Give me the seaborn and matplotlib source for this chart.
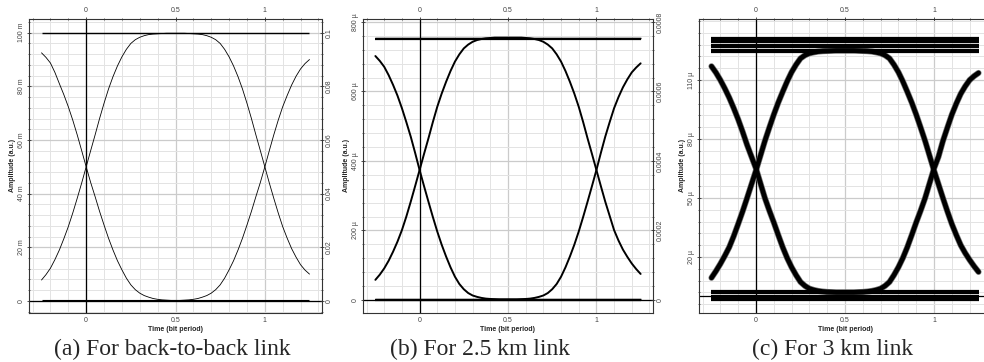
import numpy as np
import pandas as pd
import seaborn as sns
import matplotlib.pyplot as plt
from matplotlib.ticker import FixedLocator, MultipleLocator

# tiempo (periodo de bit)
t = [-0.25, -0.225, -0.2, -0.175, -0.15, -0.125, -0.1, -0.075, -0.05, -0.025,
     0.0, 0.025, 0.05, 0.075, 0.1, 0.125, 0.15, 0.175, 0.2, 0.225,
     0.25, 0.275, 0.3, 0.325, 0.35, 0.375, 0.4, 0.425, 0.45, 0.475,
     0.5, 0.525, 0.55, 0.575, 0.6, 0.625, 0.65, 0.675, 0.7, 0.725,
     0.75, 0.775, 0.8, 0.825, 0.85, 0.875, 0.9, 0.925, 0.95, 0.975,
     1.0, 1.025, 1.05, 1.075, 1.1, 1.125, 1.15, 1.175, 1.2, 1.225, 1.25]

# (a) back-to-back, valores en m (mili)
a_sube = [7.8, 9.8, 12.2, 15.4, 19, 23.2, 27.7, 32.8, 38.3, 44,
          50, 56, 61.9, 68, 73.7, 79, 83.6, 87.6, 91, 93.8,
          96, 97.4, 98.3, 98.9, 99.3, 99.5, 99.6, 99.7, 99.8, 99.8,
          99.8, 99.8, 99.8, 99.7, 99.6, 99.5, 99.3, 98.9, 98.3, 97.4,
          96, 93.8, 91, 87.6, 83.6, 79, 73.7, 68, 61.9, 56,
          50, 44, 38.3, 32.8, 27.7, 23.4, 19.5, 16.3, 13.5, 11.5, 10]
a_baja = [92.5, 90.8, 88.7, 85.2, 81, 76.9, 72.4, 67.4, 61.9, 56,
          50, 44.2, 38.9, 33.4, 28.3, 23.4, 19, 15, 11.6, 8.5,
          6, 4.2, 2.9, 2, 1.4, 0.9, 0.6, 0.4, 0.3, 0.2,
          0.2, 0.2, 0.3, 0.4, 0.6, 0.9, 1.4, 2, 2.9, 4.2,
          6, 8.5, 11.6, 15, 19, 23.4, 28.3, 33.4, 38.9, 44.2,
          50, 56, 61.9, 67.4, 72.4, 76.6, 80.5, 83.8, 86.5, 88.5, 90]
a_niveles = [99.8, 0.2]

# (b) 2.5 km, valores en micro
b_sube = [58, 73, 91, 113, 139, 168, 201, 240, 283, 328,
          374, 420, 465, 512, 556, 594, 628, 659, 686, 707,
          724, 735, 743, 748, 751, 753, 754, 755, 755, 755,
          755, 755, 755, 755, 754, 753, 751, 748, 743, 735,
          724, 707, 686, 659, 628, 594, 556, 512, 465, 420,
          374, 328, 283, 242, 201, 171, 145, 124, 105, 89, 75]
b_baja = [702, 688, 671, 647, 619, 588, 552, 512, 470, 423,
          374, 328, 283, 239, 197, 159, 125, 94, 67, 46,
          31, 20, 13, 9, 6, 4, 3, 2.5, 2, 2,
          2, 2, 2, 2.5, 3, 4, 6, 9, 13, 20,
          31, 46, 67, 94, 125, 159, 197, 239, 283, 328,
          374, 423, 470, 512, 552, 584, 612, 635, 655, 669, 681]
b_niveles = [751, 755, 1, 3]

# (c) 3 km, valores en micro
c_sube = [9.4, 12.8, 16.5, 20.6, 25, 30.6, 36.8, 43.2, 50, 57,
          64, 71.5, 79, 85.8, 92.4, 98.5, 104, 109.3, 114, 117.8,
          121, 122.6, 123.6, 124.1, 124.5, 124.7, 124.8, 124.9, 125, 125,
          125, 125, 125, 124.9, 124.8, 124.7, 124.5, 124.1, 123.6, 122.6,
          121, 117.8, 114, 109.3, 104, 98.5, 92.4, 85.8, 79, 71.5,
          64, 57, 50, 43.2, 36.8, 31.2, 26, 22, 18.5, 15.3, 12.4]
c_baja = [117, 113.8, 110, 105.7, 101, 95.7, 90, 83.7, 77, 71,
          65, 57.5, 50, 43.6, 37.6, 31.2, 25, 19.5, 14.8, 10.8,
          7.3, 5.3, 3.9, 3.2, 2.7, 2.4, 2.2, 2.1, 2, 2,
          2, 2, 2, 2.1, 2.2, 2.4, 2.7, 3.2, 3.9, 5.3,
          7.3, 10.8, 14.8, 19.5, 25, 31.2, 37.6, 43.6, 50, 57.5,
          65, 71, 79, 85.8, 92.4, 98, 103, 106.8, 110, 112, 113.6]
c_niveles = [124.3, 125.5, 126.7, 127.9, 129.1, 130.3, 131.5,
             -2.0, -0.8, 0.4, 1.6, 2.8]

# ticks y etiquetas
x_ticks = [0, 0.5, 1]
x_labels = ['0', '0.5', '1']
a_yticks = [0, 20, 40, 60, 80, 100]
a_ylabels = ['0', '20 m', '40 m', '60 m', '80 m', '100 m']
a_rlabels = ['0', '0.02', '0.04', '0.06', '0.08', '0.1']
b_yticks = [0, 200, 400, 600, 800]
b_ylabels = ['0', '200 \u00b5', '400 \u00b5', '600 \u00b5', '800 \u00b5']
b_rlabels = ['0', '0.0002', '0.0004', '0.0006', '0.0008']
c_yticks = [20, 50, 80, 110]
c_ylabels = ['20 \u00b5', '50 \u00b5', '80 \u00b5', '110 \u00b5']

captions = ['(a) For back-to-back link', '(b) For 2.5 km link', '(c) For 3 km link']

sns.set_style("white")
plt.rcParams['font.family'] = ['Liberation Sans', 'DejaVu Sans']

fig = plt.figure(figsize=(9.84, 3.62), dpi=100)
W, H = 984, 362

paneles = [
    dict(left=29, width=293, ylim=(-4.5, 105.3), sube=a_sube, baja=a_baja, niveles=a_niveles,
         lw=0.6, lw_niv=[1.0, 0.8], yt=a_yticks, yl=a_ylabels, rl=a_rlabels, ymin=4,
         cap=172),
    dict(left=363, width=290, ylim=(-37.4, 810), sube=b_sube, baja=b_baja, niveles=b_niveles,
         lw=1.4, lw_niv=[1.6, 1.0, 1.6, 1.0], yt=b_yticks, yl=b_ylabels, rl=b_rlabels,
         ymin=40, cap=480),
    dict(left=699, width=292, ylim=(-8.5, 141.3), sube=c_sube, baja=c_baja, niveles=c_niveles,
         lw=3.4, lw_niv=[1.6] * 12, yt=c_yticks, yl=c_ylabels, rl=None, ymin=6, cap=833),
]

for p, cap in zip(paneles, captions):
    ax = fig.add_axes([p['left'] / W, (H - 313) / H, p['width'] / W, 294.5 / H])
    df = pd.DataFrame({'t': t + t, 'v': p['sube'] + p['baja'],
                       'traza': ['sube'] * len(t) + ['baja'] * len(t)})
    if p['lw'] > 3:
        sns.lineplot(data=df, x='t', y='v', units='traza', estimator=None, sort=False,
                     color='#777777', lw=p['lw'] + 1.0, ax=ax, zorder=3,
                     solid_joinstyle='round')
    sns.lineplot(data=df, x='t', y='v', units='traza', estimator=None, sort=False,
                 color='black', lw=p['lw'], ax=ax, zorder=4, solid_joinstyle='round')
    for nv, lw in zip(p['niveles'], p['lw_niv']):
        ax.hlines(nv, t[0], t[-1], color='black', lw=lw, zorder=4)

    ax.axvline(0, color='black', lw=0.9, zorder=2)
    ax.axhline(0, color='black', lw=0.9, zorder=2)

    ax.set_xlim(-0.32, 1.32)
    ax.set_ylim(*p['ylim'])
    ax.xaxis.set_major_locator(FixedLocator(x_ticks))
    ax.set_xticklabels(x_labels)
    ax.xaxis.set_minor_locator(MultipleLocator(0.1))
    ax.yaxis.set_major_locator(FixedLocator(p['yt']))
    ax.set_yticklabels(p['yl'], rotation=90, va='center')
    if p['ymin'] == 6:
        ax.yaxis.set_minor_locator(MultipleLocator(6, offset=2))
    else:
        ax.yaxis.set_minor_locator(MultipleLocator(p['ymin']))

    ax.set_axisbelow(True)
    ax.grid(which='major', color='#cbcbcb', lw=0.9)
    ax.grid(which='minor', color='#e3e3e3', lw=0.7)
    ax.tick_params(which='both', direction='inout', colors='#333333', labelsize=5,
                   labelcolor='#444444', top=True, labeltop=True, right=False, pad=1.5)
    ax.tick_params(which='major', length=3, width=0.6)
    ax.tick_params(which='minor', length=2, width=0.5)
    for s in ax.spines.values():
        s.set_color('#333333')
        s.set_linewidth(0.8)
        s.set_linestyle((0, (3, 1)))

    ax.set_xlabel('Time (bit period)', fontsize=5, fontweight='bold', labelpad=1)
    ax.set_ylabel('Amplitude (a.u.)', fontsize=5, fontweight='bold', labelpad=1)

    ax2 = ax.twinx()
    ax2.set_ylim(*p['ylim'])
    ax2.yaxis.set_major_locator(FixedLocator(p['yt']))
    ax2.set_yticklabels(p['rl'] if p['rl'] else [''] * len(p['yt']), rotation=90,
                        va='center')
    ax2.yaxis.set_minor_locator(MultipleLocator(p['ymin']))
    ax2.tick_params(which='both', direction='inout', colors='#333333', labelsize=5,
                    labelcolor='#444444', pad=1)
    ax2.tick_params(which='major', length=3, width=0.6)
    ax2.tick_params(which='minor', length=2, width=0.5)
    for s in ax2.spines.values():
        s.set_visible(False)
    ax2.grid(False)

    fig.text(p['cap'] / W, 1 - 355 / H, cap, family='Liberation Serif', fontsize=17,
             ha='center', va='baseline')

fig.savefig('out.png', dpi=100)
